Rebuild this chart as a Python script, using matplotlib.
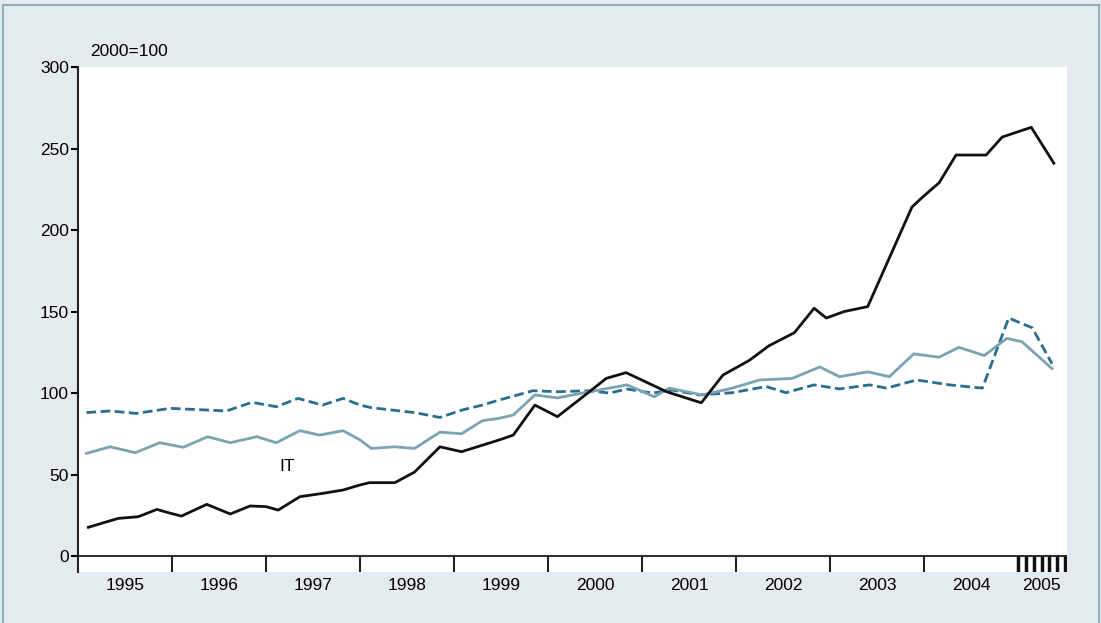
import numpy as np
import matplotlib
matplotlib.use("Agg")
import matplotlib.pyplot as plt
from matplotlib.lines import Line2D

plt.rcParams['font.family'] = ['Liberation Sans', 'DejaVu Sans']

# IT (black)
it_dates = [1995.11, 1995.27, 1995.43, 1995.64, 1995.84, 1995.96, 1996.10, 1996.37,
            1996.62, 1996.83, 1997.00, 1997.13, 1997.36, 1997.61, 1997.82, 1998.00,
            1998.10, 1998.37, 1998.58, 1998.85, 1999.08, 1999.48, 1999.63, 1999.86,
            2000.10, 2000.44, 2000.62, 2000.83, 2001.26, 2001.63, 2001.86, 2002.14,
            2002.35, 2002.62, 2002.83, 2002.96, 2003.15, 2003.40, 2003.87, 2003.98,
            2004.16, 2004.34, 2004.66, 2004.83, 2005.14, 2005.38]
it_vals = [17.6, 20.4, 23.1, 24.1, 28.6, 26.6, 24.5, 31.7,
           25.8, 30.7, 30.3, 28.2, 36.4, 38.5, 40.5, 43.6,
           45.0, 45.0, 51.5, 67.0, 64.0, 71.2, 74.2, 92.6,
           85.5, 100.8, 109.0, 112.5, 100.8, 94.0, 111.0, 120.0,
           129.0, 137.0, 152.0, 146.0, 150.0, 153.0, 214.0, 220.0,
           229.0, 246.0, 246.0, 257.0, 263.0, 241.0]

# light solid series
lt_dates = [1995.09, 1995.34, 1995.61, 1995.87, 1996.12, 1996.38, 1996.62, 1996.90,
            1997.11, 1997.36, 1997.57, 1997.82, 1998.00, 1998.12, 1998.37, 1998.58,
            1998.85, 1999.08, 1999.30, 1999.48, 1999.63, 1999.86, 2000.10, 2000.44,
            2000.65, 2000.84, 2001.13, 2001.29, 2001.64, 2001.96, 2002.25, 2002.60,
            2002.89, 2003.10, 2003.40, 2003.63, 2003.89, 2004.16, 2004.37, 2004.64,
            2004.88, 2005.04, 2005.36]
lt_vals = [63.0, 67.0, 63.4, 69.5, 66.7, 73.2, 69.5, 73.2,
           69.5, 76.9, 74.2, 76.9, 71.2, 66.0, 67.0, 66.0,
           76.0, 75.0, 83.0, 84.5, 86.5, 98.8, 97.0, 100.8,
           103.0, 105.0, 97.7, 103.0, 98.8, 103.0, 108.0, 109.0,
           116.0, 110.0, 113.0, 110.0, 124.0, 122.0, 128.0, 123.0,
           133.5, 131.5, 115.0]

# dark dashed series
dk_dates = [1995.09, 1995.34, 1995.62, 1995.98, 1996.58, 1996.85, 1997.11, 1997.34,
            1997.60, 1997.82, 1998.00, 1998.12, 1998.58, 1998.85, 1999.08, 1999.30,
            1999.48, 1999.84, 2000.10, 2000.44, 2000.65, 2000.84, 2001.11, 2001.32,
            2001.61, 2001.96, 2002.32, 2002.53, 2002.83, 2003.10, 2003.42, 2003.60,
            2003.92, 2004.27, 2004.62, 2004.90, 2005.15, 2005.36]
dk_vals = [88.0, 89.0, 87.5, 90.6, 89.0, 94.3, 91.6, 96.7,
           92.6, 96.7, 92.6, 91.0, 88.0, 85.0, 89.5, 92.6,
           95.7, 101.4, 100.8, 101.4, 100.0, 102.4, 100.0, 101.8,
           98.8, 100.2, 104.0, 100.2, 105.0, 102.5, 105.0, 103.0,
           108.0, 105.0, 103.0, 146.0, 140.0, 118.0]

years = list(range(1995, 2006))
yticks = [0, 50, 100, 150, 200, 250, 300]

bg = '#e4ebee'
frame_col = '#8fb0b8'

fig = plt.figure(figsize=(11.01, 6.23), dpi=100, facecolor=bg)
ax = fig.add_axes([78 / 1101, 1 - 572 / 623, (1067 - 78) / 1101, (572 - 67) / 623])
ax.set_facecolor('white')

ymin = -9.8
ax.set_xlim(1995.0, 2005.52)
ax.set_ylim(ymin, 300)

ax.plot(dk_dates, dk_vals, color='#2a6e8e', lw=2.0, dashes=(3.5, 1.6))
ax.plot(lt_dates, lt_vals, color='#7aa3b3', lw=2.0)
ax.plot(it_dates, it_vals, color='#111111', lw=2.0)

ax.text(1997.22, 55, 'IT', fontsize=12.5, ha='center', va='center')

# axis lines
ax.axhline(0, color='#333333', lw=1.5)
for s in ['top', 'right', 'bottom']:
    ax.spines[s].set_visible(False)
ax.spines['left'].set_linewidth(1.5)
ax.spines['left'].set_color('#222222')

ax.set_yticks(yticks)
ax.set_yticklabels([str(v) for v in yticks], fontsize=12.5)
ax.tick_params(axis='y', direction='out', length=5, width=1.5, pad=1.5)

# year separators below the zero line
ax.vlines(years[1:-1], ymin, 0, color='#222222', lw=1.5)
ax.vlines([2005 + k / 12 for k in range(0, 7)], ymin, 0, color='#111111', lw=2.5)
ax.set_xticks([])
centers = [y + 0.5 for y in years[:-1]] + [2005.25]
for c, y in zip(centers, years):
    ax.text(c, -0.027, str(y), transform=ax.get_xaxis_transform(),
            ha='center', va='center', fontsize=12.5)

fig.text(90 / 1101, 1 - 52 / 623, '2000=100', fontsize=12.5, ha='left', va='center')

# outer frame (left, top, right)
fig.add_artist(Line2D([3 / 1101, 3 / 1101], [0, 1 - 5 / 623], color=frame_col, lw=1.5))
fig.add_artist(Line2D([3 / 1101, 1099 / 1101], [1 - 5 / 623, 1 - 5 / 623], color=frame_col, lw=1.5))
fig.add_artist(Line2D([1099 / 1101, 1099 / 1101], [0, 1 - 5 / 623], color=frame_col, lw=1.5))

fig.savefig('out.png', dpi=100, facecolor=bg)
